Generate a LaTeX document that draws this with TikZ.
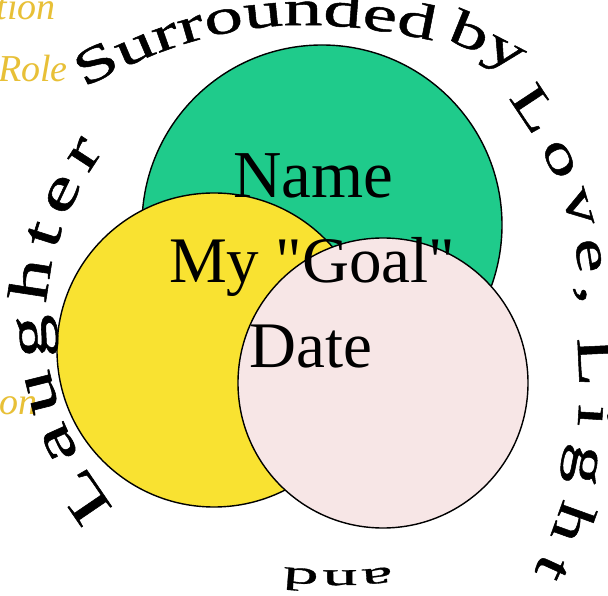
\documentclass[tikz,border=0pt]{standalone}
\usepackage{fontspec}
\setmainfont{Liberation Serif}[Ligatures=TeXOff]
\newfontfamily\arcfont[FakeStretch=1.55,FakeBold=1]{Liberation Serif}
\newfontfamily\andfont[FakeStretch=2.2,FakeBold=1]{Liberation Serif}
\usetikzlibrary{decorations.text}
\definecolor{vgreen}{RGB}{31,203,139}
\definecolor{vyellow}{RGB}{249,226,49}
\definecolor{vpink}{RGB}{247,230,230}
\definecolor{gold}{RGB}{232,192,55}
\tikzset{
  venn/.style={circle, draw=black, line width=1.4pt, inner sep=0pt},
  bigword/.style={font=\fontsize{65}{65}\selectfont, anchor=base, inner sep=0pt},
  bgword/.style={font=\itshape\fontsize{38}{38}\selectfont, text=gold, anchor=base east, inner sep=0pt},
}
\begin{document}
\begin{tikzpicture}[x=1pt,y=1pt]
\clip (0,0) rectangle (608,595);
\fill[white] (0,0) rectangle (608,595);
% background partial words
\node[bgword] (bg1) at (56,595-20) {tion};
\node[bgword] (bg2) at (68,595-82) {Role};
\node[bgword] (bg3) at (38,595-415) {on};
% circles
\node[venn, fill=vgreen, minimum size=360pt] (green) at (322,595-225) {};
\node[venn, fill=vyellow, minimum size=314pt] (yellow) at (214,595-350) {};
\node[venn, fill=vpink, minimum size=290pt] (pink) at (383,595-383) {};
% centre words
\node[bigword, font=\fontsize{67}{67}\selectfont] (name) at (313,595-198) {Name};
\node[bigword] (goal) at (312,595-283) {My "Goal"};
\node[bigword] (date) at (311,595-368) {Date};
% words round the circle
\path[decorate, decoration={text along path, text align={fit to path},
  text={|\arcfont\fontsize{50}{50}\selectfont|Surrounded}}]
  (84,595-88) to[bend left=20] (420,595-38);
\path[decorate, decoration={text along path, text align={fit to path},
  text={|\arcfont\fontsize{50}{50}\selectfont|by}}]
  (446,595-40) to[bend left=4] (512,595-70);
\path[decorate, decoration={text along path, text align={fit to path},
  text={|\arcfont\fontsize{50}{50}\selectfont|Love,}}]
  (508,595-98) to[bend left=16] (582,595-305);
\path[decorate, decoration={text along path, text align={fit to path},
  text={|\arcfont\fontsize{52}{52}\selectfont|Light}}]
  (577,595-338) to[bend left=15] (534,595-572);
\path[decorate, decoration={text along path, text align={fit to path},
  text={|\andfont\fontsize{32}{32}\selectfont|and}}]
  (392,595-567) to[bend left=6] (284,595-567);
\path[decorate, decoration={text along path, text align={fit to path},
  text={|\arcfont\fontsize{56}{56}\selectfont|Laughter}}]
  (114,595-508) to[bend left=37] (104,595-150);
\end{tikzpicture}
\end{document}
